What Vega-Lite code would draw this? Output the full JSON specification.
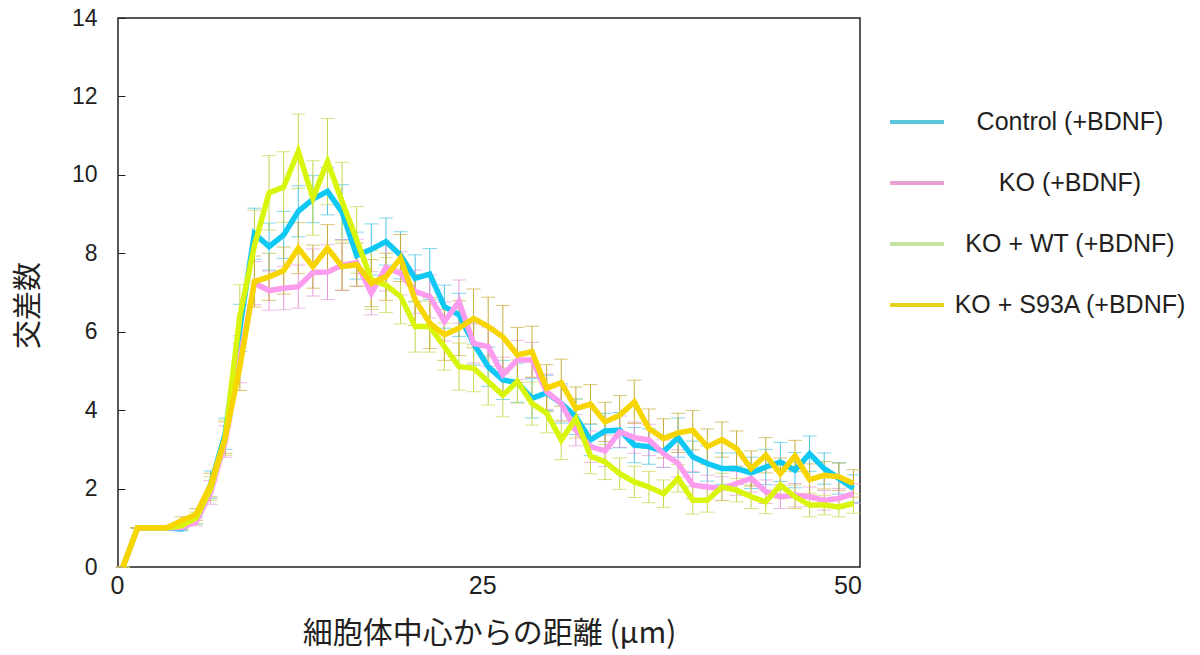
{
  "$schema": "https://vega.github.io/schema/vega-lite/v6.json",
  "width": 742,
  "height": 549,
  "autosize": "none",
  "padding": {"left": 118, "top": 18, "right": 340, "bottom": 88},
  "background": "white",
  "config": {
    "view": {"stroke": "#231f20", "strokeWidth": 1.5},
    "axis": {"grid": false, "domain": false, "labelColor": "#231f20", "titleColor": "#231f20", "labelFont": "Liberation Sans", "titleFontWeight": "normal"}
  },
  "datasets": {
    "d": [
      {"g":"Control (+BDNF)","x":0,"y":0,"e":0},{"g":"Control (+BDNF)","x":1,"y":1,"e":0},{"g":"Control (+BDNF)","x":2,"y":1,"e":0},{"g":"Control (+BDNF)","x":3,"y":1,"e":0},{"g":"Control (+BDNF)","x":4,"y":0.97,"e":0.05},{"g":"Control (+BDNF)","x":5,"y":1.2,"e":0.1},{"g":"Control (+BDNF)","x":6,"y":2.1,"e":0.35},{"g":"Control (+BDNF)","x":7,"y":3.4,"e":0.4},{"g":"Control (+BDNF)","x":8,"y":6.1,"e":0.6},{"g":"Control (+BDNF)","x":9,"y":8.5,"e":0.65},
      {"g":"Control (+BDNF)","x":10,"y":8.17,"e":0.6},{"g":"Control (+BDNF)","x":11,"y":8.47,"e":0.6},{"g":"Control (+BDNF)","x":12,"y":9.07,"e":0.65},{"g":"Control (+BDNF)","x":13,"y":9.38,"e":0.6},{"g":"Control (+BDNF)","x":14,"y":9.58,"e":0.6},{"g":"Control (+BDNF)","x":15,"y":9.05,"e":0.7},{"g":"Control (+BDNF)","x":16,"y":7.94,"e":0.6},{"g":"Control (+BDNF)","x":17,"y":8.1,"e":0.65},{"g":"Control (+BDNF)","x":18,"y":8.3,"e":0.6},{"g":"Control (+BDNF)","x":19,"y":7.95,"e":0.6},
      {"g":"Control (+BDNF)","x":20,"y":7.36,"e":0.6},{"g":"Control (+BDNF)","x":21,"y":7.47,"e":0.65},{"g":"Control (+BDNF)","x":22,"y":6.64,"e":0.55},{"g":"Control (+BDNF)","x":23,"y":6.43,"e":0.55},{"g":"Control (+BDNF)","x":24,"y":5.7,"e":0.55},{"g":"Control (+BDNF)","x":25,"y":5.11,"e":0.5},{"g":"Control (+BDNF)","x":26,"y":4.77,"e":0.5},{"g":"Control (+BDNF)","x":27,"y":4.7,"e":0.5},{"g":"Control (+BDNF)","x":28,"y":4.3,"e":0.5},{"g":"Control (+BDNF)","x":29,"y":4.44,"e":0.45},
      {"g":"Control (+BDNF)","x":30,"y":4.17,"e":0.5},{"g":"Control (+BDNF)","x":31,"y":3.83,"e":0.45},{"g":"Control (+BDNF)","x":32,"y":3.24,"e":0.4},{"g":"Control (+BDNF)","x":33,"y":3.47,"e":0.45},{"g":"Control (+BDNF)","x":34,"y":3.49,"e":0.45},{"g":"Control (+BDNF)","x":35,"y":3.11,"e":0.45},{"g":"Control (+BDNF)","x":36,"y":3.07,"e":0.45},{"g":"Control (+BDNF)","x":37,"y":2.94,"e":0.4},{"g":"Control (+BDNF)","x":38,"y":3.3,"e":0.5},{"g":"Control (+BDNF)","x":39,"y":2.81,"e":0.4},
      {"g":"Control (+BDNF)","x":40,"y":2.64,"e":0.45},{"g":"Control (+BDNF)","x":41,"y":2.51,"e":0.4},{"g":"Control (+BDNF)","x":42,"y":2.51,"e":0.4},{"g":"Control (+BDNF)","x":43,"y":2.4,"e":0.4},{"g":"Control (+BDNF)","x":44,"y":2.55,"e":0.45},{"g":"Control (+BDNF)","x":45,"y":2.68,"e":0.5},{"g":"Control (+BDNF)","x":46,"y":2.47,"e":0.45},{"g":"Control (+BDNF)","x":47,"y":2.89,"e":0.45},{"g":"Control (+BDNF)","x":48,"y":2.51,"e":0.4},{"g":"Control (+BDNF)","x":49,"y":2.26,"e":0.4},{"g":"Control (+BDNF)","x":50,"y":2.0,"e":0.35},

      {"g":"KO (+BDNF)","x":0,"y":0,"e":0},{"g":"KO (+BDNF)","x":1,"y":1,"e":0},{"g":"KO (+BDNF)","x":2,"y":1,"e":0},{"g":"KO (+BDNF)","x":3,"y":1,"e":0},{"g":"KO (+BDNF)","x":4,"y":1.0,"e":0.05},{"g":"KO (+BDNF)","x":5,"y":1.15,"e":0.1},{"g":"KO (+BDNF)","x":6,"y":1.9,"e":0.3},{"g":"KO (+BDNF)","x":7,"y":3.2,"e":0.4},{"g":"KO (+BDNF)","x":8,"y":5.3,"e":0.6},{"g":"KO (+BDNF)","x":9,"y":7.24,"e":0.55},
      {"g":"KO (+BDNF)","x":10,"y":7.05,"e":0.5},{"g":"KO (+BDNF)","x":11,"y":7.11,"e":0.55},{"g":"KO (+BDNF)","x":12,"y":7.15,"e":0.55},{"g":"KO (+BDNF)","x":13,"y":7.51,"e":0.6},{"g":"KO (+BDNF)","x":14,"y":7.52,"e":0.7},{"g":"KO (+BDNF)","x":15,"y":7.7,"e":0.65},{"g":"KO (+BDNF)","x":16,"y":7.76,"e":0.6},{"g":"KO (+BDNF)","x":17,"y":6.98,"e":0.55},{"g":"KO (+BDNF)","x":18,"y":7.64,"e":0.6},{"g":"KO (+BDNF)","x":19,"y":7.49,"e":0.55},
      {"g":"KO (+BDNF)","x":20,"y":7.02,"e":0.55},{"g":"KO (+BDNF)","x":21,"y":6.9,"e":0.55},{"g":"KO (+BDNF)","x":22,"y":6.26,"e":0.5},{"g":"KO (+BDNF)","x":23,"y":6.77,"e":0.55},{"g":"KO (+BDNF)","x":24,"y":5.7,"e":0.5},{"g":"KO (+BDNF)","x":25,"y":5.62,"e":0.5},{"g":"KO (+BDNF)","x":26,"y":4.9,"e":0.45},{"g":"KO (+BDNF)","x":27,"y":5.28,"e":0.5},{"g":"KO (+BDNF)","x":28,"y":5.28,"e":0.45},{"g":"KO (+BDNF)","x":29,"y":4.47,"e":0.45},
      {"g":"KO (+BDNF)","x":30,"y":4.17,"e":0.45},{"g":"KO (+BDNF)","x":31,"y":3.49,"e":0.4},{"g":"KO (+BDNF)","x":32,"y":3.07,"e":0.4},{"g":"KO (+BDNF)","x":33,"y":2.96,"e":0.4},{"g":"KO (+BDNF)","x":34,"y":3.45,"e":0.4},{"g":"KO (+BDNF)","x":35,"y":3.3,"e":0.4},{"g":"KO (+BDNF)","x":36,"y":3.24,"e":0.4},{"g":"KO (+BDNF)","x":37,"y":2.89,"e":0.35},{"g":"KO (+BDNF)","x":38,"y":2.64,"e":0.35},{"g":"KO (+BDNF)","x":39,"y":2.09,"e":0.35},
      {"g":"KO (+BDNF)","x":40,"y":2.04,"e":0.3},{"g":"KO (+BDNF)","x":41,"y":2.0,"e":0.3},{"g":"KO (+BDNF)","x":42,"y":2.13,"e":0.3},{"g":"KO (+BDNF)","x":43,"y":2.26,"e":0.35},{"g":"KO (+BDNF)","x":44,"y":1.92,"e":0.3},{"g":"KO (+BDNF)","x":45,"y":1.79,"e":0.3},{"g":"KO (+BDNF)","x":46,"y":1.83,"e":0.3},{"g":"KO (+BDNF)","x":47,"y":1.79,"e":0.25},{"g":"KO (+BDNF)","x":48,"y":1.7,"e":0.25},{"g":"KO (+BDNF)","x":49,"y":1.75,"e":0.25},{"g":"KO (+BDNF)","x":50,"y":1.87,"e":0.25},

      {"g":"KO + WT (+BDNF)","x":0,"y":0,"e":0},{"g":"KO + WT (+BDNF)","x":1,"y":1,"e":0},{"g":"KO + WT (+BDNF)","x":2,"y":1,"e":0},{"g":"KO + WT (+BDNF)","x":3,"y":1,"e":0},{"g":"KO + WT (+BDNF)","x":4,"y":1.05,"e":0.1},{"g":"KO + WT (+BDNF)","x":5,"y":1.25,"e":0.15},{"g":"KO + WT (+BDNF)","x":6,"y":2.0,"e":0.3},{"g":"KO + WT (+BDNF)","x":7,"y":3.3,"e":0.45},{"g":"KO + WT (+BDNF)","x":8,"y":6.4,"e":0.8},{"g":"KO + WT (+BDNF)","x":9,"y":8.2,"e":0.9},
      {"g":"KO + WT (+BDNF)","x":10,"y":9.54,"e":0.95},{"g":"KO + WT (+BDNF)","x":11,"y":9.69,"e":0.9},{"g":"KO + WT (+BDNF)","x":12,"y":10.6,"e":0.95},{"g":"KO + WT (+BDNF)","x":13,"y":9.41,"e":0.95},{"g":"KO + WT (+BDNF)","x":14,"y":10.34,"e":1.1},{"g":"KO + WT (+BDNF)","x":15,"y":9.32,"e":1.0},{"g":"KO + WT (+BDNF)","x":16,"y":8.34,"e":0.85},{"g":"KO + WT (+BDNF)","x":17,"y":7.32,"e":0.75},{"g":"KO + WT (+BDNF)","x":18,"y":7.19,"e":0.7},{"g":"KO + WT (+BDNF)","x":19,"y":6.9,"e":0.7},
      {"g":"KO + WT (+BDNF)","x":20,"y":6.13,"e":0.65},{"g":"KO + WT (+BDNF)","x":21,"y":6.13,"e":0.65},{"g":"KO + WT (+BDNF)","x":22,"y":5.62,"e":0.6},{"g":"KO + WT (+BDNF)","x":23,"y":5.11,"e":0.6},{"g":"KO + WT (+BDNF)","x":24,"y":5.07,"e":0.6},{"g":"KO + WT (+BDNF)","x":25,"y":4.73,"e":0.6},{"g":"KO + WT (+BDNF)","x":26,"y":4.38,"e":0.55},{"g":"KO + WT (+BDNF)","x":27,"y":4.73,"e":0.55},{"g":"KO + WT (+BDNF)","x":28,"y":4.17,"e":0.55},{"g":"KO + WT (+BDNF)","x":29,"y":3.92,"e":0.5},
      {"g":"KO + WT (+BDNF)","x":30,"y":3.24,"e":0.5},{"g":"KO + WT (+BDNF)","x":31,"y":3.79,"e":0.5},{"g":"KO + WT (+BDNF)","x":32,"y":2.83,"e":0.45},{"g":"KO + WT (+BDNF)","x":33,"y":2.68,"e":0.45},{"g":"KO + WT (+BDNF)","x":34,"y":2.38,"e":0.4},{"g":"KO + WT (+BDNF)","x":35,"y":2.17,"e":0.4},{"g":"KO + WT (+BDNF)","x":36,"y":2.04,"e":0.4},{"g":"KO + WT (+BDNF)","x":37,"y":1.87,"e":0.35},{"g":"KO + WT (+BDNF)","x":38,"y":2.26,"e":0.35},{"g":"KO + WT (+BDNF)","x":39,"y":1.7,"e":0.35},
      {"g":"KO + WT (+BDNF)","x":40,"y":1.7,"e":0.3},{"g":"KO + WT (+BDNF)","x":41,"y":2.04,"e":0.35},{"g":"KO + WT (+BDNF)","x":42,"y":1.96,"e":0.3},{"g":"KO + WT (+BDNF)","x":43,"y":1.79,"e":0.3},{"g":"KO + WT (+BDNF)","x":44,"y":1.66,"e":0.3},{"g":"KO + WT (+BDNF)","x":45,"y":2.09,"e":0.35},{"g":"KO + WT (+BDNF)","x":46,"y":1.79,"e":0.3},{"g":"KO + WT (+BDNF)","x":47,"y":1.58,"e":0.3},{"g":"KO + WT (+BDNF)","x":48,"y":1.58,"e":0.25},{"g":"KO + WT (+BDNF)","x":49,"y":1.53,"e":0.25},{"g":"KO + WT (+BDNF)","x":50,"y":1.62,"e":0.25},

      {"g":"KO + S93A (+BDNF)","x":0,"y":0,"e":0},{"g":"KO + S93A (+BDNF)","x":1,"y":1,"e":0},{"g":"KO + S93A (+BDNF)","x":2,"y":1,"e":0},{"g":"KO + S93A (+BDNF)","x":3,"y":1,"e":0},{"g":"KO + S93A (+BDNF)","x":4,"y":1.18,"e":0.1},{"g":"KO + S93A (+BDNF)","x":5,"y":1.34,"e":0.15},{"g":"KO + S93A (+BDNF)","x":6,"y":2.09,"e":0.3},{"g":"KO + S93A (+BDNF)","x":7,"y":3.3,"e":0.4},{"g":"KO + S93A (+BDNF)","x":8,"y":5.1,"e":0.6},{"g":"KO + S93A (+BDNF)","x":9,"y":7.28,"e":0.65},
      {"g":"KO + S93A (+BDNF)","x":10,"y":7.4,"e":0.6},{"g":"KO + S93A (+BDNF)","x":11,"y":7.56,"e":0.6},{"g":"KO + S93A (+BDNF)","x":12,"y":8.13,"e":0.65},{"g":"KO + S93A (+BDNF)","x":13,"y":7.66,"e":0.55},{"g":"KO + S93A (+BDNF)","x":14,"y":8.13,"e":0.6},{"g":"KO + S93A (+BDNF)","x":15,"y":7.66,"e":0.6},{"g":"KO + S93A (+BDNF)","x":16,"y":7.71,"e":0.55},{"g":"KO + S93A (+BDNF)","x":17,"y":7.24,"e":0.6},{"g":"KO + S93A (+BDNF)","x":18,"y":7.4,"e":0.6},{"g":"KO + S93A (+BDNF)","x":19,"y":7.88,"e":0.6},
      {"g":"KO + S93A (+BDNF)","x":20,"y":6.81,"e":0.65},{"g":"KO + S93A (+BDNF)","x":21,"y":6.22,"e":0.65},{"g":"KO + S93A (+BDNF)","x":22,"y":5.92,"e":0.65},{"g":"KO + S93A (+BDNF)","x":23,"y":6.09,"e":0.7},{"g":"KO + S93A (+BDNF)","x":24,"y":6.34,"e":0.75},{"g":"KO + S93A (+BDNF)","x":25,"y":6.13,"e":0.75},{"g":"KO + S93A (+BDNF)","x":26,"y":5.87,"e":0.8},{"g":"KO + S93A (+BDNF)","x":27,"y":5.41,"e":0.7},{"g":"KO + S93A (+BDNF)","x":28,"y":5.49,"e":0.65},{"g":"KO + S93A (+BDNF)","x":29,"y":4.56,"e":0.6},
      {"g":"KO + S93A (+BDNF)","x":30,"y":4.7,"e":0.6},{"g":"KO + S93A (+BDNF)","x":31,"y":4.04,"e":0.55},{"g":"KO + S93A (+BDNF)","x":32,"y":4.15,"e":0.5},{"g":"KO + S93A (+BDNF)","x":33,"y":3.7,"e":0.5},{"g":"KO + S93A (+BDNF)","x":34,"y":3.87,"e":0.5},{"g":"KO + S93A (+BDNF)","x":35,"y":4.21,"e":0.55},{"g":"KO + S93A (+BDNF)","x":36,"y":3.53,"e":0.5},{"g":"KO + S93A (+BDNF)","x":37,"y":3.28,"e":0.5},{"g":"KO + S93A (+BDNF)","x":38,"y":3.42,"e":0.5},{"g":"KO + S93A (+BDNF)","x":39,"y":3.49,"e":0.5},
      {"g":"KO + S93A (+BDNF)","x":40,"y":3.07,"e":0.45},{"g":"KO + S93A (+BDNF)","x":41,"y":3.25,"e":0.45},{"g":"KO + S93A (+BDNF)","x":42,"y":3.02,"e":0.45},{"g":"KO + S93A (+BDNF)","x":43,"y":2.51,"e":0.45},{"g":"KO + S93A (+BDNF)","x":44,"y":2.85,"e":0.45},{"g":"KO + S93A (+BDNF)","x":45,"y":2.38,"e":0.4},{"g":"KO + S93A (+BDNF)","x":46,"y":2.83,"e":0.4},{"g":"KO + S93A (+BDNF)","x":47,"y":2.23,"e":0.4},{"g":"KO + S93A (+BDNF)","x":48,"y":2.34,"e":0.35},{"g":"KO + S93A (+BDNF)","x":49,"y":2.3,"e":0.35},{"g":"KO + S93A (+BDNF)","x":50,"y":2.13,"e":0.35}
    ]
  },
  "data": {"name": "d"},
  "encoding": {
    "x": {
      "field": "x", "type": "quantitative",
      "scale": {"domain": [-0.34, 50.45], "nice": false, "zero": false},
      "axis": {
        "values": [0, 25, 50], "ticks": false, "labelFlush": false, "labelFontSize": 25, "labelPadding": 6, "labelOffset": -6,
        "title": "細胞体中心からの距離 (μm)", "titleFont": "Noto Sans CJK JP", "titleFontSize": 30, "titleY": 51, "titleBaseline": "top"
      }
    },
    "y": {
      "field": "y", "type": "quantitative",
      "scale": {"domain": [0, 14], "nice": false},
      "axis": {
        "values": [0, 2, 4, 6, 8, 10, 12, 14], "tickSize": -7, "tickColor": "#231f20", "tickWidth": 1, "labelPadding": 28, "labelFontSize": 23,
        "title": "交差数", "titleFont": "Noto Sans CJK JP", "titleFontSize": 29, "titleX": -90, "titleY": 287, "titleBaseline": "middle", "titleAlign": "center", "titleAngle": -90
      }
    }
  },
  "layer": [
    {
      "mark": {"type": "errorbar", "ticks": true, "size": 14, "thickness": 1},
      "encoding": {
        "yError": {"field": "e"},
        "color": {
          "field": "g", "type": "nominal", "legend": null,
          "scale": {"domain": ["Control (+BDNF)", "KO (+BDNF)", "KO + WT (+BDNF)", "KO + S93A (+BDNF)"], "range": ["#4cc4e4", "#e698da", "#c9d64c", "#c8ac38"]}
        }
      }
    },
    {
      "mark": {"type": "line", "strokeWidth": 5.5, "strokeJoin": "miter"},
      "encoding": {
        "color": {
          "field": "g", "type": "nominal", "legend": null,
          "scale": {"domain": ["Control (+BDNF)", "KO (+BDNF)", "KO + WT (+BDNF)", "KO + S93A (+BDNF)"], "range": ["#10c8f4", "#fb9cef", "#d9f50c", "#f6d500"]}
        }
      }
    },
    {
      "transform": [{"filter": "false"}],
      "mark": {"type": "line", "strokeWidth": 4},
      "encoding": {
        "color": {
          "field": "g", "type": "nominal",
          "scale": {"domain": ["Control (+BDNF)", "KO (+BDNF)", "KO + WT (+BDNF)", "KO + S93A (+BDNF)"], "range": ["#5bc6de", "#e7a0cf", "#c4e3a2", "#e6d21e"]},
          "legend": {
            "orient": "none", "legendX": 770, "legendY": 75, "title": null,
            "symbolType": "stroke", "symbolSize": 2916, "symbolStrokeWidth": 4,
            "labelFont": "Liberation Sans", "labelFontSize": 25, "labelColor": "#231f20", "labelAlign": "center", "labelOffset": 124, "labelLimit": 400,
            "rowPadding": 19, "padding": 0
          }
        }
      }
    }
  ],
  "resolve": {"scale": {"color": "independent"}}
}
